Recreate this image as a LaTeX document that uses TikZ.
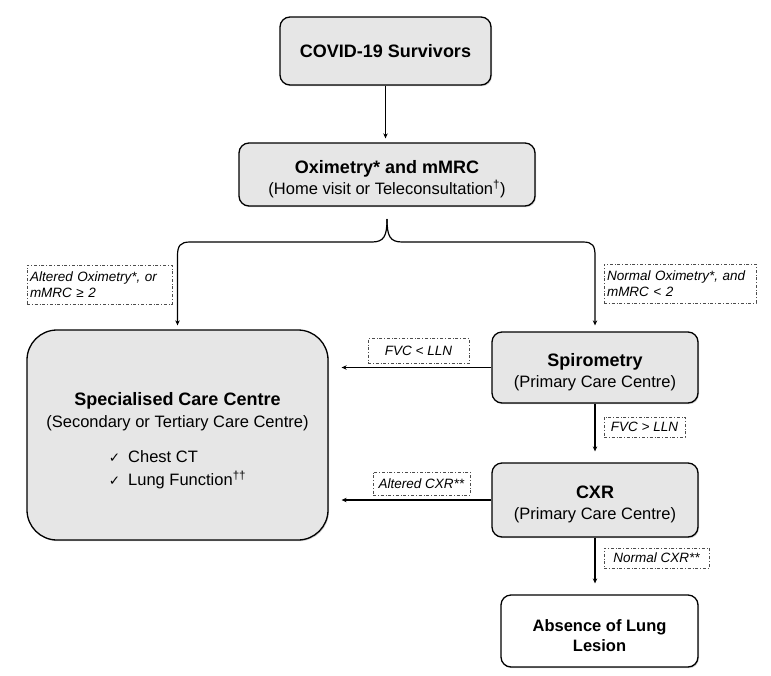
\documentclass[tikz,border=0pt]{standalone}
\usepackage{fontspec}
\setmainfont{Liberation Sans}
\newfontfamily\symfont{DejaVu Sans}
\usetikzlibrary{arrows.meta,shadows}
\definecolor{boxgray}{HTML}{E6E6E6}
\tikzset{
  flowbox/.style={draw=black, line width=1.3pt, fill=boxgray, rounded corners=10pt,
    align=center, inner sep=2pt, drop shadow={opacity=0.35, shadow xshift=1pt, shadow yshift=-1.2pt}},
  condbox/.style={draw=black!70, line width=0.6pt, dash dot, align=left, inner sep=2pt,
    font=\fontsize{13.5}{15.5}\selectfont\itshape},
  flow/.style={line width=1.2pt, -{Stealth[length=5pt,width=4.5pt]}, shorten >=4pt},
  longflow/.style={flow, shorten >=11pt},
  sideflow/.style={flow, shorten >=13pt},
  bigtxt/.style={font=\fontsize{16.5}{21}\selectfont},
  boldtxt/.style={font=\bfseries\fontsize{18}{21}\selectfont}
}
\newcommand{\bigbf}[1]{{\bfseries\fontsize{18}{21}\selectfont #1}}
\newcommand{\chk}{{\symfont\fontsize{13.5}{13.5}\selectfont ✓}\hspace{8pt}}
\begin{document}
\begin{tikzpicture}[x=1pt,y=-1pt]
\useasboundingbox (0,0) rectangle (771,675);
\fill[white] (0,0) rectangle (771,675);

\node[flowbox, minimum width=211pt, minimum height=68pt, boldtxt] (covid) at (385.5,51) {COVID-19 Survivors};

\node[flowbox, minimum width=296pt, minimum height=63pt, bigtxt] (oxi) at (387,174.5)
  {\rule{0pt}{22pt}\bigbf{Oximetry* and mMRC}\\(Home visit or Teleconsultation\textsuperscript{†})};

\node[flowbox, rounded corners=30pt, minimum width=301pt, minimum height=210pt, font=\fontsize{16.5}{22.5}\selectfont] (spec) at (177.5,435)
  {\rule{0pt}{28pt}{\bfseries\fontsize{18}{22.5}\selectfont Specialised Care Centre}\\(Secondary or Tertiary Care Centre)\\[15pt]
   \begin{tabular}{@{}l@{}}\chk Chest CT\\[0.5pt] \chk Lung Function\textsuperscript{††}\end{tabular}};

\node[flowbox, minimum width=206pt, minimum height=71pt, bigtxt] (spiro) at (595,367.5)
  {\rule{0pt}{22pt}\bigbf{Spirometry}\\(Primary Care Centre)};

\node[flowbox, minimum width=206pt, minimum height=74pt, bigtxt] (cxr) at (595,500)
  {\rule{0pt}{22pt}\bigbf{CXR}\\(Primary Care Centre)};

\node[flowbox, fill=white, minimum width=197pt, minimum height=72pt, font=\bfseries\fontsize{16.5}{20}\selectfont] (absence) at (599.5,631)
  {\rule{0pt}{21pt}Absence of Lung\\Lesion};

% condition labels
\node[condbox, minimum width=145pt, minimum height=39pt, text width=139pt] (lab1) at (99.5,284.5)
  {Altered Oximetry*, or\\mMRC ≥ 2};
\node[condbox, minimum width=152pt, minimum height=39pt, text width=146pt] (lab2) at (680,283.5)
  {Normal Oximetry*, and\\mMRC < 2};
\node[condbox, minimum width=101pt, minimum height=25pt, align=center] (fvclt) at (418.5,351) {FVC < LLN};
\node[condbox, minimum width=97pt, minimum height=23pt, align=center] (altcxr) at (421.5,483.5) {Altered CXR**};
\node[condbox, minimum width=81pt, minimum height=20pt, align=center] (fvcgt) at (644.5,427) {FVC > LLN};
\node[condbox, minimum width=105pt, minimum height=20pt, align=center] (normcxr) at (656.5,558) {Normal CXR**};

% connectors
\draw[flow] (covid.south) -- (covid.south |- oxi.north);

\coordinate (cusp) at (387,219);
\draw[flow] (cusp) .. controls (387,236) and (384,242) .. (372,242) -- (190,242)
  .. controls (180,242) and (177.5,246) .. (177.5,256) -- (spec.north);
\draw[flow, shorten >=6pt] (cusp) .. controls (387,236) and (390,242) .. (402,242) -- (583,242)
  .. controls (593,242) and (595,246) .. (595,256) -- (spiro.north);

\draw[sideflow] (spiro.west) -- (spiro.west -| spec.east);
\draw[sideflow] (cxr.west) -- (cxr.west -| spec.east);
\draw[longflow] (spiro.south) -- (cxr.north);
\draw[longflow] (cxr.south) -- (cxr.south |- absence.north);
\end{tikzpicture}
\end{document}
